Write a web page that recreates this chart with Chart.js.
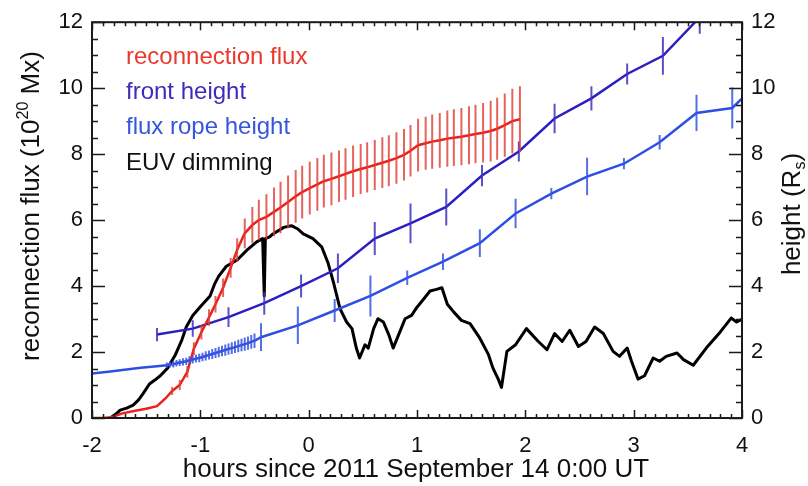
<!DOCTYPE html>
<html>
<head>
<meta charset="utf-8">
<script src="https://cdn.jsdelivr.net/npm/chart.js@4.4.1/dist/chart.umd.min.js"></script>
<style>
  html, body { margin: 0; padding: 0; background: #fff; }
  canvas { display: block; }
</style>
</head>
<body>
<canvas id="grafico" width="808" height="486"></canvas>
<script>
// Reconnection flux (10^20 Mx) with uncertainty
const redX = [-2.00, -1.90, -1.82, -1.72, -1.60, -1.50, -1.40, -1.32, -1.26, -1.19, -1.12, -1.06, -0.99, -0.92, -0.86, -0.79, -0.72,
  -0.66, -0.59, -0.52, -0.46, -0.39, -0.32, -0.26, -0.19, -0.12, -0.06, 0.01, 0.08, 0.14, 0.21, 0.28, 0.34, 0.41, 0.48, 0.54,
  0.61, 0.68, 0.74, 0.81, 0.88, 0.94, 1.01, 1.08, 1.14, 1.21, 1.28, 1.34, 1.41, 1.48, 1.54, 1.61, 1.68, 1.74, 1.81, 1.88, 1.95];
const redY = [0.00, 0.00, 0.02, 0.14, 0.22, 0.28, 0.36, 0.60, 0.82, 1.00, 1.40, 2.10, 2.60, 3.05, 3.45, 3.95, 4.55,
  5.10, 5.60, 5.85, 6.00, 6.10, 6.25, 6.38, 6.55, 6.72, 6.85, 6.97, 7.08, 7.18, 7.25, 7.33, 7.40, 7.48, 7.55, 7.60,
  7.67, 7.74, 7.80, 7.88, 7.98, 8.10, 8.27, 8.33, 8.38, 8.42, 8.47, 8.50, 8.53, 8.57, 8.61, 8.65, 8.70, 8.77, 8.88, 9.00, 9.06];
const redErr = [0, 0, 0, 0, 0, 0, 0, 0, 0.12, 0.15, 0.18, 0.2, 0.22, 0.25, 0.25, 0.28, 0.3,
  0.35, 0.45, 0.55, 0.62, 0.68, 0.74, 0.78, 0.8, 0.8, 0.8, 0.8, 0.8, 0.8, 0.8, 0.78, 0.78, 0.78, 0.76, 0.76,
  0.76, 0.77, 0.77, 0.78, 0.78, 0.78, 0.8, 0.8, 0.82, 0.83, 0.85, 0.86, 0.87, 0.88, 0.89, 0.9, 0.92, 0.94, 0.96, 0.98, 1.0];

// Front height (R_s)
const frontX = [-1.40, -1.07, -0.74, -0.41, -0.07, 0.27, 0.61, 0.94, 1.27, 1.60, 1.94, 2.27, 2.61, 2.94, 3.27, 3.61];
const frontY = [2.53, 2.71, 3.06, 3.48, 4.00, 4.54, 5.44, 5.90, 6.40, 7.35, 8.08, 9.08, 9.69, 10.43, 10.98, 12.15];
const frontErr = [0.2, 0.25, 0.3, 0.35, 0.35, 0.45, 0.5, 0.6, 0.56, 0.32, 0.3, 0.45, 0.37, 0.32, 0.57, 0.5];

// Flux rope height (R_s)
const ropeX = [-2.00, -1.85, -1.70, -1.55, -1.40,
  -1.31, -1.28, -1.25, -1.22, -1.19, -1.16, -1.13, -1.10, -1.07, -1.04, -1.01, -0.98, -0.95, -0.92,
  -0.89, -0.86, -0.83, -0.80, -0.77, -0.74, -0.71, -0.68, -0.65, -0.62, -0.59, -0.56, -0.53, -0.50,
  -0.44, -0.10, 0.24, 0.57, 0.91, 1.24, 1.58, 1.91, 2.24, 2.57, 2.91, 3.24, 3.58, 3.91, 4.24];
const ropeY = [1.35, 1.40, 1.46, 1.52, 1.57,
  1.60, 1.62, 1.63, 1.66, 1.68, 1.70, 1.72, 1.75, 1.77, 1.80, 1.82, 1.85, 1.88, 1.91,
  1.94, 1.97, 2.00, 2.03, 2.06, 2.09, 2.12, 2.15, 2.18, 2.21, 2.24, 2.27, 2.31, 2.34,
  2.45, 2.81, 3.26, 3.70, 4.25, 4.74, 5.30, 6.20, 6.80, 7.32, 7.71, 8.36, 9.25, 9.40, 10.45];
const ropeErr = [0, 0, 0, 0, 0,
  0.08, 0.09, 0.1, 0.1, 0.1, 0.11, 0.11, 0.12, 0.12, 0.12, 0.13, 0.13, 0.14, 0.14,
  0.15, 0.15, 0.16, 0.16, 0.17, 0.17, 0.18, 0.18, 0.19, 0.19, 0.2, 0.2, 0.21, 0.22,
  0.42, 0.57, 0.35, 0.62, 0.22, 0.25, 0.42, 0.45, 0.17, 0.57, 0.17, 0.22, 0.55, 0.62, 0.4];

// EUV dimming
const euvX = [-1.83, -1.78, -1.74, -1.68, -1.62, -1.57, -1.53, -1.47, -1.42, -1.37, -1.30, -1.26, -1.23, -1.17, -1.13, -1.07,
  -0.99, -0.91, -0.87, -0.83, -0.76, -0.66, -0.57, -0.48, -0.425, -0.41, -0.40, -0.36, -0.33, -0.23, -0.16, -0.10, -0.05,
  0.04, 0.12, 0.18, 0.23, 0.29, 0.35, 0.40, 0.44, 0.47, 0.52, 0.55, 0.60, 0.64, 0.69, 0.74, 0.78, 0.83, 0.89, 0.95,
  1.00, 1.06, 1.12, 1.18, 1.23, 1.28, 1.34, 1.41, 1.49, 1.58, 1.66, 1.70, 1.75, 1.78, 1.83, 1.91, 2.01, 2.12, 2.20,
  2.27, 2.34, 2.41, 2.49, 2.56, 2.64, 2.72, 2.81, 2.87, 2.94, 2.98, 3.04, 3.10, 3.18, 3.24, 3.30, 3.40, 3.46, 3.55,
  3.67, 3.80, 3.90, 3.95, 4.00];
const euvY = [0.00, 0.12, 0.24, 0.30, 0.39, 0.55, 0.73, 1.03, 1.15, 1.28, 1.52, 1.75, 1.92, 2.37, 2.76, 3.11,
  3.41, 3.70, 4.05, 4.30, 4.60, 4.79, 5.09, 5.34, 5.44, 3.70, 5.44, 5.49, 5.58, 5.78, 5.83, 5.73, 5.58,
  5.44, 5.19, 4.69, 4.10, 3.31, 2.91, 2.71, 2.12, 1.82, 2.22, 2.12, 2.71, 3.01, 2.91, 2.52, 2.12, 2.52, 3.01, 3.11,
  3.36, 3.60, 3.85, 3.90, 3.95, 3.45, 3.21, 2.96, 2.86, 2.42, 1.92, 1.52, 1.18, 0.93, 2.02, 2.22, 2.71, 2.32, 2.07,
  2.56, 2.32, 2.66, 2.17, 2.32, 2.76, 2.56, 2.02, 1.87, 2.12, 1.72, 1.18, 1.28, 1.82, 1.72, 1.87, 1.97, 1.77, 1.60,
  2.12, 2.61, 3.03, 2.91, 2.99];

const xTicks = [-2, -1, 0, 1, 2, 3, 4];
const yTicks = [0, 2, 4, 6, 8, 10, 12];

const FONT = "'Liberation Sans', Arial, Helvetica, sans-serif";
const INK = "#111";

const pares = (xs, ys) => xs.map((x, i) => ({ x: x, y: ys[i] }));

// Vertical error bars, drawn right after their own dataset
const barrasError = {
  id: "barrasError",
  afterDatasetDraw(chart, args) {
    const ds = chart.data.datasets[args.index];
    if (!ds.errors) return;
    const xs = chart.scales[args.meta.xAxisID];
    const ys = chart.scales[args.meta.yAxisID];
    const a = chart.chartArea;
    const c = chart.ctx;
    c.save();
    c.beginPath();
    c.rect(a.left, a.top, a.right - a.left, a.bottom - a.top);
    c.clip();
    c.strokeStyle = ds.errorColor;
    c.lineWidth = ds.errorWidth;
    c.beginPath();
    ds.data.forEach((p, i) => {
      const e = ds.errors[i];
      if (!e) return;
      const px = xs.getPixelForValue(p.x);
      c.moveTo(px, ys.getPixelForValue(p.y - e));
      c.lineTo(px, ys.getPixelForValue(p.y + e));
    });
    c.stroke();
    c.restore();
  }
};

// Text pieces with optional super/subscript, drawn left to right from x
function anchoRico(c, partes, size) {
  let w = 0;
  partes.forEach(p => {
    c.font = (p.sup || p.sub ? size * 0.62 : size) + "px " + FONT;
    w += c.measureText(p.t).width;
  });
  return w;
}
function textoRico(c, partes, x, y, size) {
  partes.forEach(p => {
    const s = p.sup || p.sub ? size * 0.62 : size;
    c.font = s + "px " + FONT;
    const dy = p.sup ? -size * 0.42 : (p.sub ? size * 0.2 : 0);
    c.fillText(p.t, x, y + dy);
    x += c.measureText(p.t).width;
  });
}

// Box, inward ticks, axis titles and the coloured labels
const marco = {
  id: "marco",
  afterDraw(chart) {
    const c = chart.ctx;
    const a = chart.chartArea;
    const sx = chart.scales.x;
    const sy = chart.scales.y;
    c.save();
    c.strokeStyle = "#1a1a1a";
    c.lineWidth = 1.5;
    c.beginPath();
    for (let i = -20; i <= 40; i++) {
      const px = Math.round(sx.getPixelForValue(i / 10)) + 0.5;
      const len = i % 10 === 0 ? 8 : 4;
      c.moveTo(px, a.bottom); c.lineTo(px, a.bottom - len);
      c.moveTo(px, a.top); c.lineTo(px, a.top + len);
    }
    for (let i = 0; i <= 24; i++) {
      const py = Math.round(sy.getPixelForValue(i / 2)) + 0.5;
      const len = i % 4 === 0 ? 13 : 6;
      c.moveTo(a.left, py); c.lineTo(a.left + len, py);
      c.moveTo(a.right, py); c.lineTo(a.right - len, py);
    }
    c.stroke();
    c.lineWidth = 2;
    c.strokeRect(a.left, a.top, a.right - a.left, a.bottom - a.top);

    c.fillStyle = INK;
    c.textBaseline = "alphabetic";
    c.textAlign = "left";

    // x title
    const tx = [{ t: "hours since 2011 September 14 0:00 UT" }];
    const wx = anchoRico(c, tx, 26);
    textoRico(c, tx, (a.left + a.right) / 2 - wx / 2 - 1, 477, 26);

    // left title
    const tl = [{ t: "reconnection flux (10" }, { t: "20", sup: true }, { t: " Mx)" }];
    const wl = anchoRico(c, tl, 26);
    c.save();
    c.translate(39, 206);
    c.rotate(-Math.PI / 2);
    textoRico(c, tl, -wl / 2, 0, 26);
    c.restore();

    // right title
    const tr = [{ t: "height (R" }, { t: "s", sub: true }, { t: ")" }];
    const wr = anchoRico(c, tr, 26);
    c.save();
    c.translate(800, 214);
    c.rotate(-Math.PI / 2);
    textoRico(c, tr, -wr / 2, 0, 26);
    c.restore();

    // labels
    const orden = [0, 1, 2, 3];
    const base = [64, 99, 134, 170];
    c.font = "24px " + FONT;
    orden.forEach((k, i) => {
      const ds = chart.data.datasets[k];
      c.fillStyle = ds.labelColor;
      c.fillText(ds.label, 126, base[i]);
    });
    c.restore();
  }
};

const tickFont = { family: FONT, size: 22 };

new Chart(document.getElementById("grafico"), {
  type: "line",
  data: {
    datasets: [
      {
        label: "reconnection flux",
        data: pares(redX, redY),
        errors: redErr,
        borderColor: "#e8231d",
        labelColor: "#e83a2c",
        errorColor: "rgba(222, 60, 52, 0.8)",
        errorWidth: 2,
        borderWidth: 2.5,
        yAxisID: "y",
        order: 1
      },
      {
        label: "front height",
        data: pares(frontX, frontY),
        errors: frontErr,
        borderColor: "#2c1fc2",
        labelColor: "#3a2cbc",
        errorColor: "rgba(60, 50, 190, 0.85)",
        errorWidth: 2,
        borderWidth: 2.5,
        yAxisID: "y2",
        order: 2
      },
      {
        label: "flux rope height",
        data: pares(ropeX, ropeY),
        errors: ropeErr,
        borderColor: "#2e4fe4",
        labelColor: "#3656dc",
        errorColor: "rgba(55, 85, 225, 0.85)",
        errorWidth: 2,
        borderWidth: 2.5,
        yAxisID: "y2",
        order: 0
      },
      {
        label: "EUV dimming",
        data: pares(euvX, euvY),
        borderColor: "#000",
        labelColor: "#111",
        borderWidth: 3,
        borderJoinStyle: "round",
        yAxisID: "y",
        order: 3
      }
    ]
  },
  options: {
    responsive: false,
    animation: false,
    layout: { padding: { top: 14, left: 0, right: 0, bottom: 0 } },
    elements: { point: { radius: 0 }, line: { tension: 0 } },
    plugins: { legend: { display: false }, tooltip: { enabled: false } },
    scales: {
      x: {
        type: "linear",
        min: -2,
        max: 4,
        afterBuildTicks: s => { s.ticks = xTicks.map(v => ({ value: v })); },
        ticks: { font: tickFont, color: INK, padding: 15, maxRotation: 0 },
        grid: { display: false, drawTicks: false },
        border: { display: false },
        afterFit: s => { s.height = 68; }
      },
      y: {
        position: "left",
        min: 0,
        max: 12,
        afterBuildTicks: s => { s.ticks = yTicks.map(v => ({ value: v })); },
        ticks: { font: tickFont, color: INK, padding: 9 },
        grid: { display: false, drawTicks: false },
        border: { display: false },
        afterFit: s => { s.width = 92; }
      },
      y2: {
        position: "right",
        min: 0,
        max: 12,
        afterBuildTicks: s => { s.ticks = yTicks.map(v => ({ value: v })); },
        ticks: { font: tickFont, color: INK, padding: 9 },
        grid: { display: false, drawTicks: false },
        border: { display: false },
        afterFit: s => { s.width = 66; }
      }
    }
  },
  plugins: [barrasError, marco]
});
</script>
</body>
</html>
